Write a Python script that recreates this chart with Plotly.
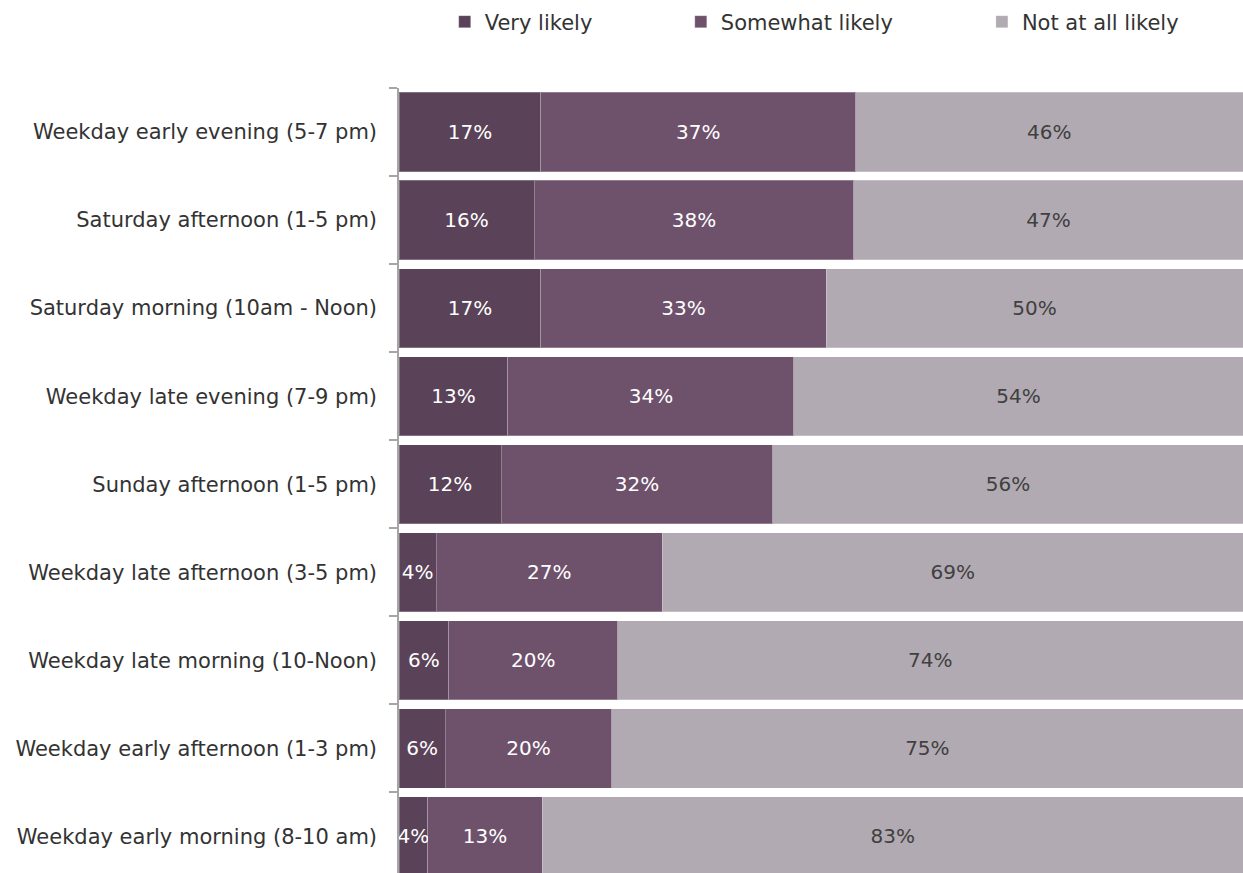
import plotly.graph_objects as go

categories = [
    "Weekday early evening (5-7 pm)",
    "Saturday afternoon (1-5 pm)",
    "Saturday morning (10am - Noon)",
    "Weekday late evening (7-9 pm)",
    "Sunday afternoon (1-5 pm)",
    "Weekday late afternoon (3-5 pm)",
    "Weekday late morning (10-Noon)",
    "Weekday early afternoon (1-3 pm)",
    "Weekday early morning (8-10 am)",
]

# segment sizes (percent)
very_likely = [16.8, 16.0, 16.8, 12.9, 12.1, 4.4, 5.9, 5.5, 3.4]
somewhat_likely = [37.3, 37.9, 33.8, 33.9, 32.2, 26.8, 20.0, 19.7, 13.6]
not_at_all_likely = [45.9, 46.1, 49.4, 53.2, 55.7, 68.8, 74.1, 74.8, 83.0]

# printed data labels
very_labels = ["17%", "16%", "17%", "13%", "12%", "4%", "6%", "6%", "4%"]
somewhat_labels = ["37%", "38%", "33%", "34%", "32%", "27%", "20%", "20%", "13%"]
not_labels = ["46%", "47%", "50%", "54%", "56%", "69%", "74%", "75%", "83%"]

series_names = ["Very likely", "Somewhat likely", "Not at all likely"]
colors = ["#5a4258", "#6e526c", "#b2aab2"]
text_colors = ["#ffffff", "#ffffff", "#404040"]

FONT = "DejaVu Sans"

fig = go.Figure()
legend_ids = ["legend", "legend2", "legend3"]
for name, vals, labels, col, tcol, lg in zip(
    series_names,
    [very_likely, somewhat_likely, not_at_all_likely],
    [very_labels, somewhat_labels, not_labels],
    colors, text_colors, legend_ids,
):
    fig.add_trace(go.Bar(
        y=categories, x=vals, name=name, orientation="h",
        marker=dict(color=col, line=dict(color="rgba(255,255,255,0.25)", width=1)),
        text=labels, textposition="inside", insidetextanchor="middle",
        textangle=0, constraintext="none",
        textfont=dict(family=FONT, size=20, color=tcol),
        legend=lg, showlegend=True, hoverinfo="skip",
    ))

plot_left, plot_w = 399.3, 843.7
plot_top, plot_h = 88, 785

def lx(px):
    return (px - plot_left) / plot_w

leg_common = dict(
    orientation="h", yanchor="middle", xanchor="left",
    y=1 + (plot_top - 22) / plot_h,
    font=dict(family=FONT, size=21, color="#333333"),
    bgcolor="rgba(0,0,0,0)", borderwidth=0,
)

fig.update_layout(
    width=1243, height=873,
    margin=dict(l=399, r=0, t=88, b=0, pad=0),
    barmode="stack", bargap=0.1, showlegend=True,
    plot_bgcolor="white", paper_bgcolor="white",
    font=dict(family=FONT, size=21, color="#333333"),
    legend=dict(x=lx(445), **leg_common),
    legend2=dict(x=lx(681), **leg_common),
    legend3=dict(x=lx(982), **leg_common),
    xaxis=dict(range=[0, 100], visible=False, showgrid=False, zeroline=False, fixedrange=True),
    yaxis=dict(
        type="category", categoryorder="array", categoryarray=categories,
        range=[8.415, -0.5], tickson="boundaries",
        ticks="outside", ticklen=8, tickwidth=1.5, tickcolor="#a6a6a6",
        showline=True, linecolor="#a6a6a6", linewidth=1.5,
        showgrid=False, zeroline=False, ticklabelstandoff=16,
        tickfont=dict(family=FONT, size=21, color="#333333"),
        fixedrange=True,
    ),
)

fig.write_html(
    "out.html",
    config={"displayModeBar": False},
    post_script="document.body.style.margin='0px';document.body.style.overflow='hidden';",
)
